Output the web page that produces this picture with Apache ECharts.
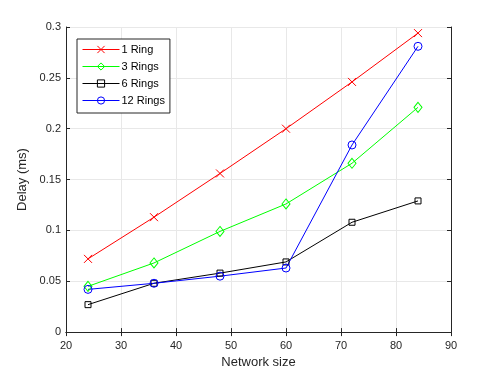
<!DOCTYPE html>
<html>
<head>
<meta charset="utf-8">
<script src="https://cdn.jsdelivr.net/npm/echarts@6/dist/echarts.min.js"></script>
<style>
  html, body { margin: 0; padding: 0; background: #fff; }
  #chart { width: 498px; height: 374px; }
</style>
</head>
<body>
<div id="chart"></div>
<script>
// network sizes on the x axis
const networkSize = [24, 36, 48, 60, 72, 84]
// delay in ms
const ring1 = [0.072, 0.113, 0.156, 0.200, 0.246, 0.294]
const rings3 = [0.045, 0.068, 0.099, 0.126, 0.166, 0.221]
const rings6 = [0.027, 0.048, 0.058, 0.069, 0.108, 0.129]
const rings12 = [0.042, 0.048, 0.055, 0.063, 0.184, 0.281]
const seriesNames = ['1 Ring', '3 Rings', '6 Rings', '12 Rings']

const font = 'Liberation Sans, Arial, sans-serif'
const axisColor = '#262626'

let pairs = vals => networkSize.map((x, i) => [x, vals[i]])

let lineSeries = (name, vals, color, symbol, size) => ({
  name: name,
  type: 'line',
  data: pairs(vals),
  symbol: symbol,
  symbolSize: size,
  symbolKeepAspect: true,
  showAllSymbol: true,
  lineStyle: { color: color, width: 1 },
  itemStyle: { color: 'rgba(255,255,255,0)', borderColor: color, borderWidth: 1 },
  emphasis: { disabled: true },
  animation: false,
})

let myChart = echarts.init(document.getElementById('chart'))

let xBase = {
  type: 'value',
  min: 20,
  max: 90,
  interval: 10,
  axisLine: { show: true, lineStyle: { color: axisColor, width: 1 } },
  axisTick: { show: true, inside: true, length: 4, lineStyle: { color: axisColor } },
  splitLine: { show: true, lineStyle: { color: '#e8e8e8', width: 1 } },
}
let yBase = {
  type: 'value',
  min: 0,
  max: 0.3,
  interval: 0.05,
  axisLine: { show: true, lineStyle: { color: axisColor, width: 1 } },
  axisTick: { show: true, inside: true, length: 4, lineStyle: { color: axisColor } },
  splitLine: { show: true, lineStyle: { color: '#e8e8e8', width: 1 } },
}

myChart.setOption({
  backgroundColor: '#fff',
  animation: false,
  grid: { left: 66, right: 47, top: 27, bottom: 41, containLabel: false },
  legend: {
    left: 77,
    top: 39,
    orient: 'vertical',
    data: seriesNames,
    itemWidth: 37,
    itemHeight: 9,
    itemGap: 6,
    padding: [5, 5, 7, 5],
    backgroundColor: '#fff',
    borderColor: '#262626',
    borderWidth: 1,
    borderRadius: 0,
    itemStyle: { borderWidth: 1 },
    lineStyle: { width: 1 },
    textStyle: { fontFamily: font, fontSize: 11, color: '#000', padding: [0, 0, 0, -3] },
  },
  xAxis: [
    Object.assign({}, xBase, {
      position: 'bottom',
      name: 'Network size',
      nameLocation: 'middle',
      nameGap: 23,
      nameTextStyle: { fontFamily: font, fontSize: 13, color: axisColor },
      axisLabel: { fontFamily: font, fontSize: 11, color: axisColor, margin: 8 },
    }),
    Object.assign({}, xBase, {
      position: 'top',
      axisLabel: { show: false },
      splitLine: { show: false },
    }),
  ],
  yAxis: [
    Object.assign({}, yBase, {
      position: 'left',
      name: 'Delay (ms)',
      nameLocation: 'middle',
      nameGap: 26,
      nameTextStyle: { fontFamily: font, fontSize: 13, color: axisColor },
      axisLabel: { fontFamily: font, fontSize: 11, color: axisColor, margin: 5 },
    }),
    Object.assign({}, yBase, {
      position: 'right',
      axisLabel: { show: false },
      splitLine: { show: false },
    }),
  ],
  series: [
    lineSeries(seriesNames[0], ring1, '#ff0000', 'path://M0,0L10,10M0,10L10,0', 8),
    lineSeries(seriesNames[1], rings3, '#00ff00', 'diamond', [8, 10]),
    lineSeries(seriesNames[2], rings6, '#000000', 'rect', 6),
    lineSeries(seriesNames[3], rings12, '#0000ff', 'circle', 8),
  ],
})
</script>
</body>
</html>
